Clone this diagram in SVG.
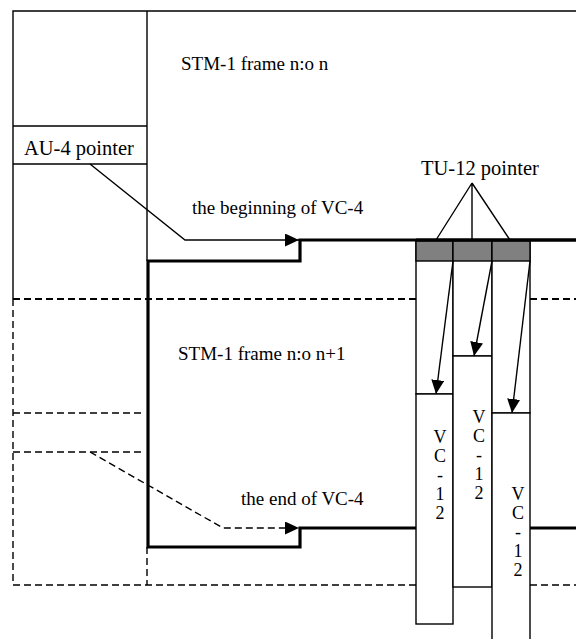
<svg xmlns="http://www.w3.org/2000/svg" width="576" height="639" viewBox="0 0 576 639">
<defs>
<marker id="ah" markerUnits="userSpaceOnUse" markerWidth="15" markerHeight="13" refX="14" refY="6.5" orient="auto">
<path d="M0,0 L14,6.5 L0,13 Z" fill="#000"/>
</marker>
</defs>
<style>
.thin{fill:none;stroke:#000;stroke-width:1.4}
.thick{fill:none;stroke:#000;stroke-width:3.2}
.dash{fill:none;stroke:#000;stroke-width:1.4;stroke-dasharray:7,4}
.dashb{fill:none;stroke:#000;stroke-width:2;stroke-dasharray:7,4}
.box{fill:#fff;stroke:#000;stroke-width:1.4}
.gray{fill:#808080;stroke:#000;stroke-width:1.4}
.t{font-family:"Liberation Serif","Times New Roman",serif;font-size:19px;fill:#000}
.b{font-family:"Liberation Serif","Times New Roman",serif;font-size:20.5px;fill:#000}
.v{font-family:"Liberation Serif","Times New Roman",serif;font-size:18px;fill:#000;text-anchor:middle}
</style>
<g id="frame-n">
<path class="thin" d="M576,11 H13 V299 M147,11 V261 M13,126 H147 M13,164 H147"/>
<text class="t" x="181" y="70">STM-1 frame n:o n</text>
</g>
<g id="au4-pointer">
<text class="b" x="24" y="155">AU-4 pointer</text>
</g>
<g id="frame-n1">
<path class="dashb" d="M13,299 H576"/>
<path class="dash" d="M13,299 V585 H576 M13,413 H143 M13,452 H143 M147,547 V585"/>
<text class="t" x="178" y="360">STM-1 frame n:o n+1</text>
</g>
<g id="vc4">
<path class="thick" d="M576,240 H300 V261 H148 V547 H300 V528 H576"/>
</g>
<g id="connectors">
<path class="thin" d="M90,164 L185,240 H299" marker-end="url(#ah)"/>
<path class="dash" d="M90,452 L223,528 H299" marker-end="url(#ah)"/>
<path class="thin" d="M472,183 L436,240 M472,183 V240 M472,183 L510,240"/>
</g>
<g id="labels">
<text class="t" x="192" y="214">the beginning of VC-4</text>
<text class="t" x="241" y="505">the end of VC-4</text>
<text class="b" x="421" y="175">TU-12 pointer</text>
</g>
<g id="tu12-1">
<rect class="box" x="416" y="241" width="37" height="153"/>
<rect class="gray" x="416" y="241" width="37" height="20"/>
<rect class="box" x="416" y="394" width="37" height="230"/>
<g class="v"><text x="440" y="443">V</text><text x="440" y="462">C</text><text x="440" y="481">-</text><text x="440" y="500">1</text><text x="440" y="519">2</text></g>
</g>
<g id="tu12-2">
<rect class="box" x="453" y="241" width="39" height="115"/>
<rect class="gray" x="453" y="241" width="39" height="20"/>
<rect class="box" x="453" y="356" width="39" height="231"/>
<g class="v"><text x="479" y="423">V</text><text x="479" y="442">C</text><text x="479" y="461">-</text><text x="479" y="480">1</text><text x="479" y="499">2</text></g>
</g>
<g id="tu12-3">
<rect class="box" x="492" y="241" width="38" height="172"/>
<rect class="gray" x="492" y="241" width="38" height="20"/>
<rect class="box" x="492" y="413" width="38" height="240"/>
<g class="v"><text x="518" y="500">V</text><text x="518" y="519">C</text><text x="518" y="538">-</text><text x="518" y="557">1</text><text x="518" y="576">2</text></g>
</g>
<g id="top-line">
<path class="thick" d="M416,240 H576"/>
</g>
<g id="pointer-arrows">
<path class="thin" d="M453,261 L436,394" marker-end="url(#ah)"/>
<path class="thin" d="M492,261 L474,356" marker-end="url(#ah)"/>
<path class="thin" d="M530,261 L512,413" marker-end="url(#ah)"/>
</g>
</svg>
